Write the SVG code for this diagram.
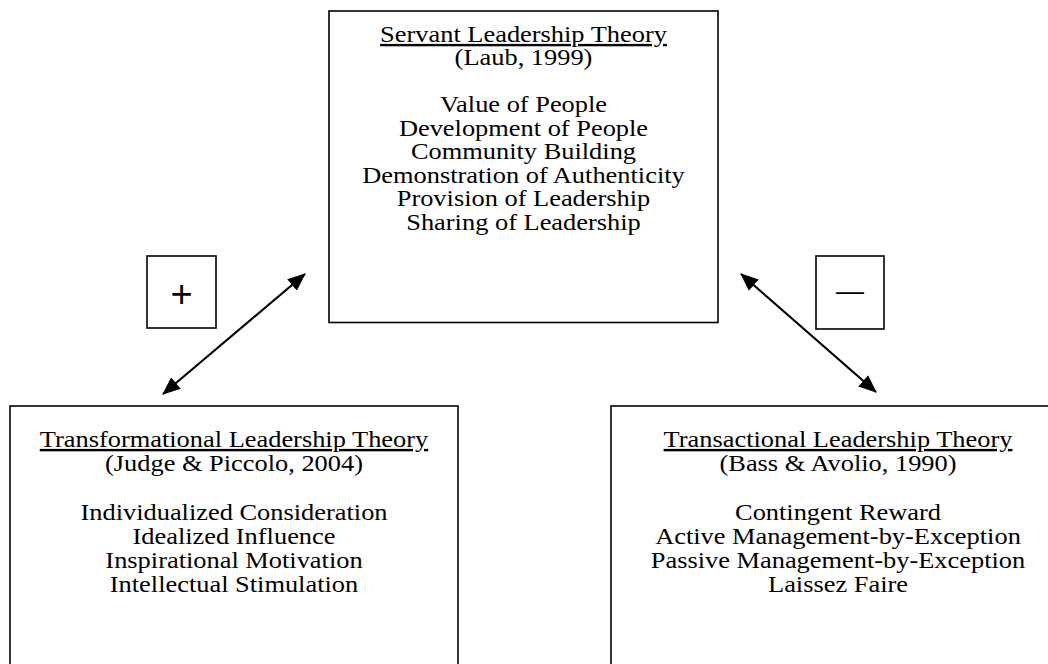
<svg xmlns="http://www.w3.org/2000/svg" width="1048" height="664" viewBox="0 0 1048 664">
<style>
  .box { fill: #fff; stroke: #000; stroke-width: 1.6; }
  .t { font-family: "Liberation Serif", "Times New Roman", serif; font-size: 24px; fill: #000; text-anchor: middle; }
  .h { text-decoration: underline; }
  .sym { font-family: "Liberation Sans", Arial, sans-serif; fill: #000; text-anchor: middle; }
  .conn { stroke: #000; stroke-width: 2.2; fill: none; }
</style>
<defs>
  <marker id="ah" viewBox="0 0 18 15" markerWidth="18" markerHeight="15" refX="17" refY="7.5" orient="auto-start-reverse" markerUnits="userSpaceOnUse">
    <path d="M0,0 L18,7.5 L0,15 z" fill="#000"/>
  </marker>
</defs>
<rect width="1048" height="664" fill="#fff"/>

<g id="servant">
  <rect class="box" x="329" y="11" width="389" height="311.5"/>
  <g transform="translate(523.5,0) scale(1.1,1)">
    <text class="t h" x="0" y="42">Servant Leadership Theory</text>
    <text class="t" x="0" y="65.5">(Laub, 1999)</text>
    <text class="t" x="0" y="112.5">Value of People</text>
    <text class="t" x="0" y="136">Development of People</text>
    <text class="t" x="0" y="159.5">Community Building</text>
    <text class="t" x="0" y="183">Demonstration of Authenticity</text>
    <text class="t" x="0" y="206.5">Provision of Leadership</text>
    <text class="t" x="0" y="230">Sharing of Leadership</text>
  </g>
</g>

<g id="transformational">
  <rect class="box" x="10" y="406" width="448" height="270"/>
  <g transform="translate(234,0) scale(1.1,1)">
    <text class="t h" x="0" y="447">Transformational Leadership Theory</text>
    <text class="t" x="0" y="471">(Judge &amp; Piccolo, 2004)</text>
    <text class="t" x="0" y="520">Individualized Consideration</text>
    <text class="t" x="0" y="544">Idealized Influence</text>
    <text class="t" x="0" y="568">Inspirational Motivation</text>
    <text class="t" x="0" y="592">Intellectual Stimulation</text>
  </g>
</g>

<g id="transactional">
  <rect class="box" x="611" y="406" width="460" height="270"/>
  <g transform="translate(838,0) scale(1.1,1)">
    <text class="t h" x="0" y="447">Transactional Leadership Theory</text>
    <text class="t" x="0" y="471">(Bass &amp; Avolio, 1990)</text>
    <text class="t" x="0" y="520">Contingent Reward</text>
    <text class="t" x="0" y="544">Active Management-by-Exception</text>
    <text class="t" x="0" y="568">Passive Management-by-Exception</text>
    <text class="t" x="0" y="592">Laissez Faire</text>
  </g>
</g>

<g id="plus">
  <rect class="box" x="147" y="256" width="69" height="72"/>
  <text class="sym" x="181.5" y="307" font-size="38">+</text>
</g>

<g id="minus">
  <rect class="box" x="816" y="256" width="68" height="73"/>
  <text class="sym" x="850" y="300" font-size="28">—</text>
</g>

<g id="connectors">
  <line class="conn" x1="163" y1="394" x2="305" y2="274" marker-start="url(#ah)" marker-end="url(#ah)"/>
  <line class="conn" x1="741" y1="274" x2="876" y2="392" marker-start="url(#ah)" marker-end="url(#ah)"/>
</g>
</svg>
